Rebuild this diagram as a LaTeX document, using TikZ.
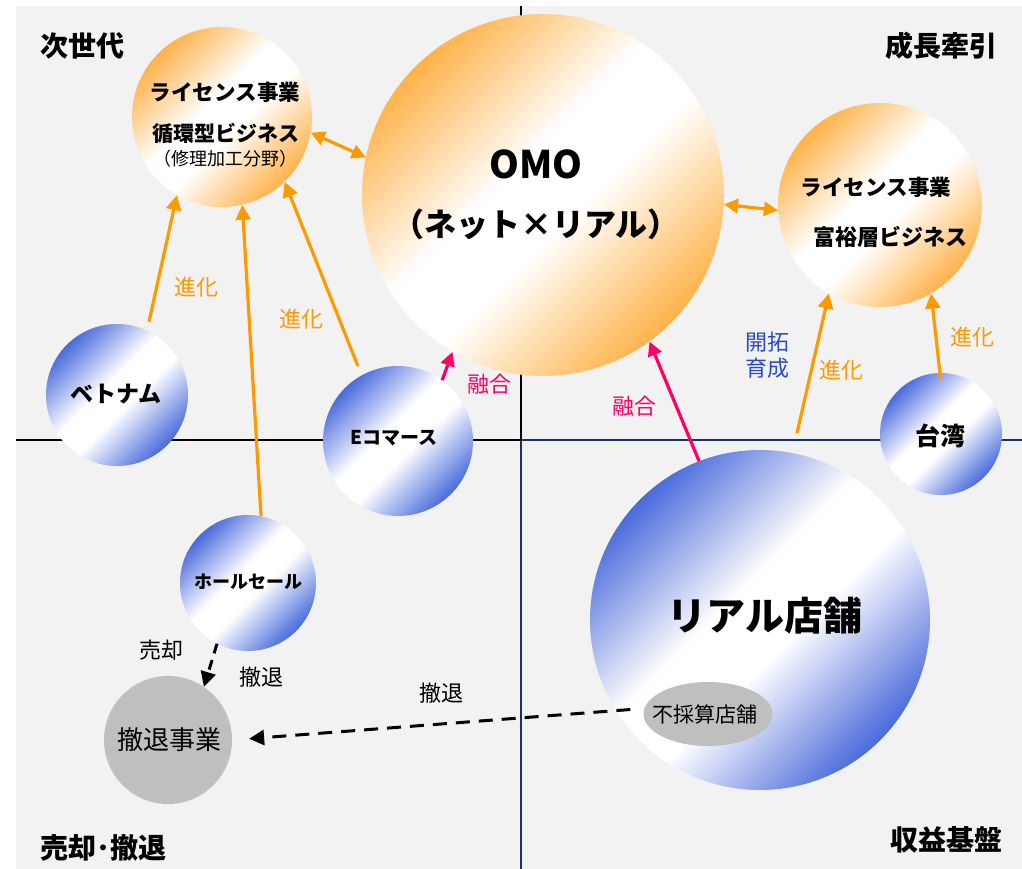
\documentclass[tikz,border=0pt]{standalone}
\usepackage{fontspec}
\setmainfont{Noto Sans CJK JP}
\usetikzlibrary{arrows.meta,calc,shapes.geometric}
\definecolor{bgC}{HTML}{F2F2F2}
\definecolor{orC}{HTML}{FFB24A}
\definecolor{blC}{HTML}{4A6BDB}
\definecolor{arrOr}{HTML}{FF9900}
\definecolor{arrPk}{HTML}{FF0066}
\definecolor{txBl}{HTML}{2A48C8}
\definecolor{navyC}{HTML}{17306E}
\definecolor{grC}{HTML}{BFBFBF}
\pgfdeclarehorizontalshading{orsh}{100bp}{color(0bp)=(orC); color(25bp)=(orC); color(45bp)=(white); color(55bp)=(white); color(75bp)=(orC); color(100bp)=(orC)}
\pgfdeclarehorizontalshading{blsh}{100bp}{color(0bp)=(blC); color(25bp)=(blC); color(45bp)=(white); color(55bp)=(white); color(75bp)=(blC); color(100bp)=(blC)}
\newcommand{\fsz}[1]{\fontsize{#1}{#1}\selectfont}
\begin{document}
\begin{tikzpicture}[x=1pt,y=-1pt,
  orbub/.style={circle, inner sep=0pt, minimum size=#1, shading=orsh, shading angle=-45},
  blbub/.style={circle, inner sep=0pt, minimum size=#1, shading=blsh, shading angle=-45},
  grbub/.style={circle, inner sep=0pt, minimum size=#1, fill=grC},
  lbl/.style={inner sep=0pt, anchor=center},
  corner/.style={inner sep=0pt, font=\fsz{28}\bfseries},
  orarr/.style={draw=arrOr, line width=3.2pt, -{Triangle[length=15pt,width=15pt]}},
  orarr2/.style={draw=arrOr, line width=3.2pt, {Triangle[length=14pt,width=14pt]}-{Triangle[length=14pt,width=14pt]}},
  pkarr/.style={draw=arrPk, line width=3.2pt, -{Triangle[length=14pt,width=14pt]}},
  dsharr/.style={draw=black, line width=3pt, dash pattern=on 14pt off 9pt, -{Triangle[length=15pt,width=15pt]}},
  orlbl/.style={lbl, text=arrOr, font=\fsz{22}},
  pklbl/.style={lbl, text=arrPk, font=\fsz{22}},
  bklbl/.style={lbl, text=black, font=\fsz{22}}
]
\useasboundingbox (0,0) rectangle (1022,869);
\fill[bgC] (16,6) rectangle (1022,869);
% axes
\draw[line width=2.2pt, black] (521,6) -- (521,440);
\draw[line width=2.2pt, navyC] (521,440) -- (521,869);
\draw[line width=2.2pt, black] (16,440) -- (521,440);
\draw[line width=2.2pt, navyC] (521,440) -- (1022,440);

% bubbles
\node[orbub=362pt] (omo) at (543,195) {};
\node[orbub=180pt] (lic1) at (222,117) {};
\node[orbub=204pt] (lic2) at (880,205) {};
\node[blbub=142pt] (viet) at (117,395) {};
\node[blbub=150pt] (ecom) at (398,441) {};
\node[blbub=122pt] (tw) at (941,434) {};
\node[blbub=136pt] (hole) at (248,583) {};
\node[blbub=340pt] (real) at (760,620) {};
\node[grbub=128pt] (exit) at (168,740) {};
\node[ellipse, inner sep=0pt, minimum width=129pt, minimum height=64pt, fill=grC] (unprof) at (708,714) {};

% bubble texts
\node[lbl, font=\fsz{38}\bfseries] (tomo1) at (536,164) {OMO};
\node[lbl, font=\fsz{32}\bfseries] (tomo2) at (536,224) {（ネット×リアル）};
\node[lbl, font=\fsz{21.5}\bfseries] (tl1a) at (225,92) {ライセンス事業};
\node[lbl, font=\fsz{21}\bfseries] (tl1b) at (226,133) {循環型ビジネス};
\node[lbl, font=\fsz{18}] (tl1c) at (225,159) {（修理加工分野）};
\node[lbl, font=\fsz{21.5}\bfseries] (tl2a) at (876,187) {ライセンス事業};
\node[lbl, font=\fsz{22}\bfseries] (tl2b) at (890,237) {富裕層ビジネス};
\node[lbl, font=\fsz{23}\bfseries] (tviet) at (116,394) {ベトナム};
\node[lbl, font=\fsz{19}\bfseries] (tecom) at (394,438) {Eコマース};
\node[lbl, font=\fsz{25}\bfseries] (ttw) at (940,436) {台湾};
\node[lbl, font=\fsz{18}\bfseries] (thole) at (248,582) {ホールセール};
\node[lbl, font=\fsz{39}\bfseries] (treal) at (765,616) {リアル店舗};
\node[lbl, font=\fsz{26}] (texit) at (169,740) {撤退事業};
\node[lbl, font=\fsz{21}] (tunprof) at (705,714) {不採算店舗};

% corner labels
\node[corner, anchor=west] (cnw) at (40,46) {次世代};
\node[corner, anchor=east] (cne) at (998,46) {成長牽引};
\node[corner, anchor=west] (csw) at (40,848) {売却･撤退};
\node[corner, anchor=east] (cse) at (1003,840) {収益基盤};

% connectors
\coordinate (axs) at (797,433);
\draw[orarr, shorten <=9pt] (viet.65) -- (lic1.240);
\draw[orarr] (hole.79) -- (lic1.283);
\draw[orarr, shorten <=10pt] (ecom.119) -- (lic1.314);
\draw[orarr2] (lic1.350) -- (omo.168);
\draw[orarr2] (omo.357) -- (lic2.183);
\draw[orarr] (axs) -- (lic2.240);
\draw[orarr, shorten <=-7pt] (tw.91) -- (lic2.300);
\draw[pkarr] (ecom.54) -- (omo.240);
\draw[pkarr] (real.111) -- (omo.306);
\draw[dsharr, dash pattern=on 10pt off 7pt] (hole.243) -- (exit.56);
\draw[dsharr, shorten <=14pt, shorten >=17pt] (unprof.175) -- (exit.0);

% connector labels
\node[orlbl] (l1) at (196,287) {進化};
\node[orlbl] (l2) at (301,319) {進化};
\node[orlbl] (l3) at (841,370) {進化};
\node[orlbl] (l4) at (972,337) {進化};
\node[pklbl] (l5) at (489,384) {融合};
\node[pklbl] (l6) at (634,406) {融合};
\node[lbl, text=txBl, font=\fsz{22}, align=center] (l7) at (767,355) {開拓\\[4pt]育成};
\node[bklbl] (l8) at (161,650) {売却};
\node[bklbl] (l9) at (261,677) {撤退};
\node[bklbl] (l10) at (441,693) {撤退};
\end{tikzpicture}
\end{document}
